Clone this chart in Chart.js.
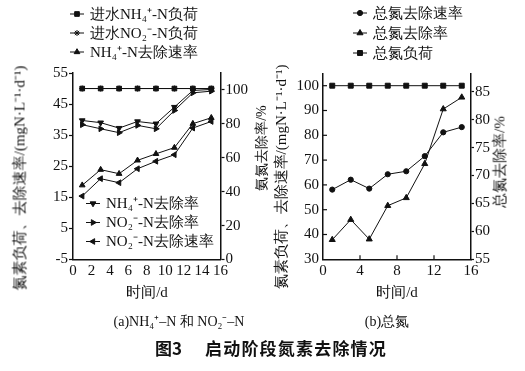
<!DOCTYPE html>
<html><head><meta charset="utf-8">
<script src="https://cdn.jsdelivr.net/npm/chart.js@4/dist/chart.umd.min.js"></script>
<style>
html,body{margin:0;padding:0;background:#fff}
body{width:525px;height:371px;position:relative;overflow:hidden;font-family:"Liberation Serif",serif;color:#111}
canvas{position:absolute;top:0}
#ca{left:0}
#cb{left:275px}
.t{position:absolute;white-space:nowrap;font-size:15px;line-height:1;transform:translate(-50%,-50%)}
.r{transform:translate(-50%,-50%) rotate(-90deg)}
.cap{position:absolute;white-space:nowrap;font-family:"Noto Sans CJK SC",sans-serif;font-weight:bold;font-size:17px;line-height:1;transform:translateY(-50%)}
</style></head>
<body>
<canvas id="ca" width="275" height="310"></canvas>
<canvas id="cb" width="250" height="310"></canvas>
<div class="t r" style="left:20px;top:178px">氮素负荷、去除速率/(mgN·L⁻¹·d⁻¹)</div>
<div class="t r" style="left:262px;top:148px;font-size:14px">氨氮去除率/%</div>
<div class="t r" style="left:281px;top:177px">氮素负荷、去除速率/(mgN·L⁻¹·d⁻¹)</div>
<div class="t r" style="left:500px;top:162px">总氮去除率/%</div>
<div class="t" style="left:147px;top:292px">时间/d</div>
<div class="t" style="left:397px;top:292px">时间/d</div>
<div class="t" style="left:179px;top:322px;font-size:14px">(a)NH₄⁺–N 和 NO₂⁻–N</div>
<div class="t" style="left:387px;top:322px;font-size:14px">(b)总氮</div>
<div class="cap" style="left:155px;top:347px">图3</div>
<div class="cap" style="left:205px;top:347px;letter-spacing:1.2px">启动阶段氮素去除情况</div>
<script>
// ---- data ----
const days = [1, 3, 5, 7, 9, 11, 13, 15];
const xTicksA = [0, 2, 4, 6, 8, 10, 12, 14, 16];
// panel (a)
const nh4Load = [50, 50, 50, 50, 50, 50, 50, 50];
const no2Load = [50, 50, 50, 50, 50, 50, 50, 50];
const nh4RemovalSpeed = [18.9, 23.9, 22.6, 26.9, 29.0, 31.0, 38.7, 40.6];
const no2RemovalSpeed = [15.4, 21.0, 19.7, 24.2, 26.6, 28.7, 37.3, 39.4];
const nh4RemovalPct = [82.0, 80.7, 77.5, 81.4, 80.1, 89.9, 99.7, 100.3];
const no2RemovalPct = [79.5, 77.1, 74.8, 79.1, 77.1, 87.9, 98.3, 99.3];
// panel (b)
const tnRemovalSpeed = [58.1, 62.1, 58.5, 64.3, 65.5, 71.6, 81.2, 83.3];
const tnRemovalPct = [58.5, 62.1, 58.6, 64.6, 66.0, 72.1, 81.9, 84.0];
const tnLoad = [100, 100, 100, 100, 100, 100, 100, 100];

const INK = '#111';
const FAMILY = '"Liberation Serif", serif';
const FONT = '15px ' + FAMILY;
const pts = arr => days.map((d, i) => ({x: d, y: arr[i]}));

function marker(ctx, style, rot, r, x, y) {
  if (Chart.helpers && Chart.helpers.drawPoint) {
    Chart.helpers.drawPoint(ctx, {pointStyle: style, rotation: rot || 0, radius: r, borderWidth: 1}, x, y);
  }
}

const groupLegend = {
  id: 'groupLegend',
  afterDraw(chart, args, opts) {
    const ctx = chart.ctx;
    ctx.save();
    ctx.font = FONT;
    ctx.textBaseline = 'middle';
    ctx.textAlign = 'left';
    for (const g of opts.groups) {
      g.items.forEach((di, k) => {
        const ds = chart.data.datasets[di];
        const y = g.y + k * g.dy;
        ctx.strokeStyle = INK; ctx.fillStyle = INK; ctx.lineWidth = 1;
        ctx.beginPath(); ctx.moveTo(g.x - 7, y); ctx.lineTo(g.x + 7, y); ctx.stroke();
        marker(ctx, ds.pointStyle, ds.pointRotation, ds.pointRadius, g.x, y);
        ctx.fillStyle = INK;
        ctx.fillText(ds.label, g.x + 13, y + 1);
      });
    }
    ctx.restore();
  }
};

const inwardTicks = {
  id: 'inwardTicks',
  afterDatasetsDraw(chart, args, opts) {
    const ctx = chart.ctx;
    ctx.save();
    ctx.strokeStyle = INK; ctx.lineWidth = 1.2;
    for (const spec of (opts.scales || [])) {
      const s = chart.scales[spec.id];
      s.ticks.forEach(t => {
        if (spec.skip && spec.skip.includes(t.value)) return;
        const p = s.getPixelForValue(t.value);
        ctx.beginPath();
        if (s.axis === 'x') { ctx.moveTo(p, s.top); ctx.lineTo(p, s.top - spec.len); }
        else if (s.position === 'left') { ctx.moveTo(s.right, p); ctx.lineTo(s.right + spec.len, p); }
        else { ctx.moveTo(s.left, p); ctx.lineTo(s.left - spec.len, p); }
        ctx.stroke();
      });
    }
    ctx.restore();
  }
};

const tickFont = {family: FAMILY, size: 15};
function lineDs(label, arr, style, rot, axis, r) {
  return {label, data: pts(arr), yAxisID: axis, borderColor: INK, backgroundColor: INK,
    borderWidth: 1, pointStyle: style, pointRotation: rot, pointRadius: r,
    pointBorderWidth: 1, pointBorderColor: INK, pointBackgroundColor: INK, tension: 0, clip: false};
}
const common = {
  responsive: false, animation: false, devicePixelRatio: 1,
  plugins: {legend: {display: false}, tooltip: {enabled: false}},
  elements: {line: {tension: 0}}
};
function axisBase() {
  return {border: {display: true, color: INK, width: 1.5},
          ticks: {color: INK, font: tickFont},
          title: {display: false}};
}

const charts = [];
// ---- panel (a) ----
charts.push(new Chart(document.getElementById('ca'), {
  type: 'line',
  data: {datasets: [
    lineDs('进水NH₄⁺-N负荷', nh4Load, 'rect', 0, 'y', 3.3),
    lineDs('进水NO₂⁻-N负荷', no2Load, 'star', 0, 'y', 3),
    lineDs('NH₄⁺-N去除速率', nh4RemovalSpeed, 'triangle', 0, 'y', 3.3),
    lineDs('NH₄⁺-N去除率', nh4RemovalPct, 'triangle', 180, 'y2', 3.3),
    lineDs('NO₂⁻-N去除率', no2RemovalPct, 'triangle', 90, 'y2', 3.3),
    lineDs('NO₂⁻-N去除速率', no2RemovalSpeed, 'triangle', 270, 'y', 3.3)
  ]},
  options: Object.assign({}, common, {
    layout: {padding: {top: 73, left: 0, right: 0, bottom: 0}},
    scales: {
      x: Object.assign(axisBase(), {type: 'linear', min: 0, max: 16,
        afterBuildTicks: s => { s.ticks = xTicksA.map(v => ({value: v})); },
        afterFit: s => { s.height = 50.5; },
        grid: {display: true, drawOnChartArea: false, drawTicks: false},
        ticks: {color: INK, font: tickFont, padding: 3, maxRotation: 0, autoSkip: false}}),
      y: Object.assign(axisBase(), {type: 'linear', position: 'left', min: -5, max: 55,
        afterFit: s => { s.width = 73; },
        grid: {display: true, drawOnChartArea: false, drawTicks: true, tickLength: 4, color: INK, tickWidth: 1.2},
        ticks: {color: INK, font: tickFont, stepSize: 10, padding: 1}}),
      y2: Object.assign(axisBase(), {type: 'linear', position: 'right', min: 0, max: 110,
        afterFit: s => { s.width = 54.5; },
        grid: {display: true, drawOnChartArea: false, drawTicks: true, tickLength: 4, color: INK, tickWidth: 1.2},
        ticks: {color: INK, font: tickFont, stepSize: 10, padding: 1}})
    },
    plugins: Object.assign({}, common.plugins, {
      groupLegend: {groups: [
        {x: 77, y: 14, dy: 19, items: [0, 1, 2]},
        {x: 93, y: 203.5, dy: 19, items: [3, 4, 5]}
      ]}
    })
  }),
  plugins: [groupLegend]
}));

// ---- panel (b) ----
charts.push(new Chart(document.getElementById('cb'), {
  type: 'line',
  data: {datasets: [
    lineDs('总氮去除速率', tnRemovalSpeed, 'circle', 0, 'y', 2.6),
    lineDs('总氮去除率', tnRemovalPct, 'triangle', 0, 'y2', 3.5),
    lineDs('总氮负荷', tnLoad, 'rect', 0, 'y', 3.5)
  ]},
  options: Object.assign({}, common, {
    layout: {padding: {top: 73.3, left: 0, right: 0, bottom: 0}},
    scales: {
      x: Object.assign(axisBase(), {type: 'linear', min: 0, max: 16,
        afterFit: s => { s.height = 50.7; },
        grid: {display: true, drawOnChartArea: false, drawTicks: false},
        ticks: {color: INK, font: tickFont, stepSize: 4, padding: 3, maxRotation: 0, autoSkip: false}}),
      y: Object.assign(axisBase(), {type: 'linear', position: 'left', min: 30, max: 105,
        afterFit: s => { s.width = 48; },
        grid: {display: true, drawOnChartArea: false, drawTicks: false},
        ticks: {color: INK, font: tickFont, stepSize: 10, padding: 4, includeBounds: false}}),
      y2: Object.assign(axisBase(), {type: 'linear', position: 'right', min: 55, max: 88.3,
        afterFit: s => { s.width = 54; },
        grid: {display: true, drawOnChartArea: false, drawTicks: true, tickLength: 3, color: INK, tickWidth: 1.2},
        ticks: {color: INK, font: tickFont, stepSize: 5, padding: 1, includeBounds: false}})
    },
    plugins: Object.assign({}, common.plugins, {
      groupLegend: {groups: [{x: 85, y: 13, dy: 20, items: [0, 1, 2]}]},
      inwardTicks: {scales: [
        {id: 'x', len: 4, skip: [0, 16]},
        {id: 'y', len: 4, skip: [30]}
      ]}
    })
  }),
  plugins: [groupLegend, inwardTicks]
}));

const redraw = () => charts.forEach(c => c.update('none'));
if (document.fonts) document.fonts.ready.then(redraw);
window.addEventListener('load', redraw);
</script>
</body></html>
